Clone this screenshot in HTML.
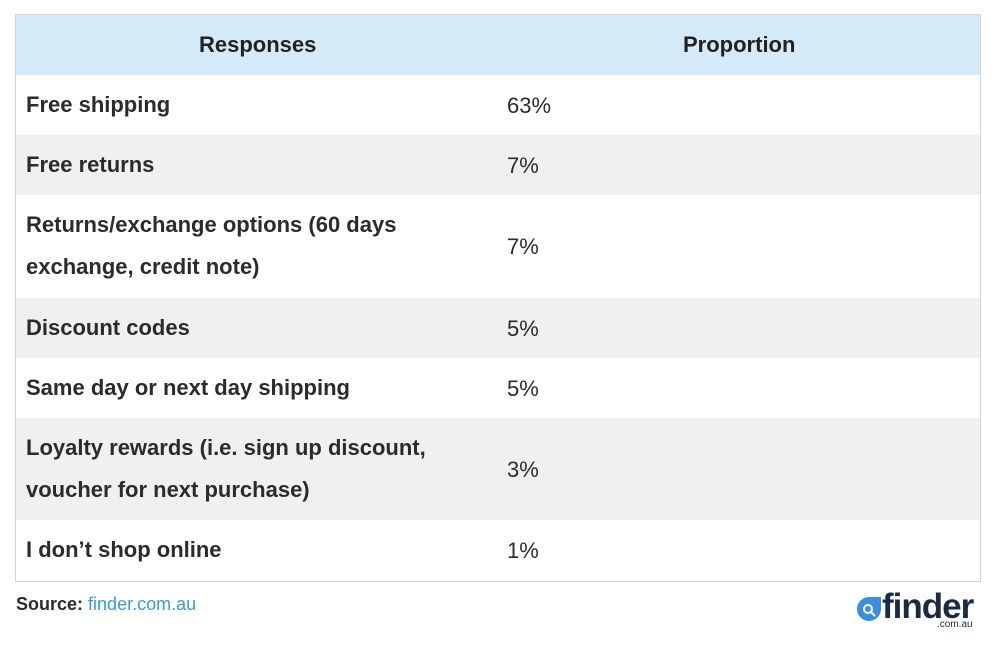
<!DOCTYPE html>
<html><head><meta charset="utf-8"><style>
body{margin:0;width:1000px;height:654px;background:#fff;font-family:"Liberation Sans",Arial,sans-serif;color:#2b2b2b;position:relative;overflow:hidden}
#tbl{position:absolute;left:15px;top:14px;width:964px;height:566px;border:1px solid #d4d4d4}
.row{position:absolute;left:0;width:964px}
.c1{position:absolute;left:10px;font-weight:bold;font-size:22px;line-height:42px}
.c2{position:absolute;left:491px;font-size:22px}
.hd{background:#d5eaf8;top:0;height:60px}
.hd span{position:absolute;top:0;line-height:60px;font-weight:bold;font-size:22px;color:#222}
.g{background:#f0f0f0}
</style></head><body>
<div id="tbl">
<div class="row hd">
<span style="left:183px">Responses</span>
<span style="left:667px">Proportion</span>
</div>
<div class="row" style="top:60px;height:60px"><div class="c1" style="top:9px">Free shipping</div><div class="c2" style="top:18px">63%</div></div>
<div class="row g" style="top:120px;height:60px"><div class="c1" style="top:9px">Free returns</div><div class="c2" style="top:18px">7%</div></div>
<div class="row" style="top:180px;height:103px"><div class="c1" style="top:9px">Returns/exchange options (60 days<br>exchange, credit note)</div><div class="c2" style="top:39px">7%</div></div>
<div class="row g" style="top:283px;height:60px"><div class="c1" style="top:9px">Discount codes</div><div class="c2" style="top:18px">5%</div></div>
<div class="row" style="top:343px;height:60px"><div class="c1" style="top:9px">Same day or next day shipping</div><div class="c2" style="top:18px">5%</div></div>
<div class="row g" style="top:403px;height:102px"><div class="c1" style="top:9px">Loyalty rewards (i.e. sign up discount,<br>voucher for next purchase)</div><div class="c2" style="top:39px">3%</div></div>
<div class="row" style="top:505px;height:61px"><div class="c1" style="top:9px">I don’t shop online</div><div class="c2" style="top:18px">1%</div></div>
</div>
<div style="position:absolute;left:16px;top:594px;font-size:18px"><b>Source:</b> <span style="color:#3a9ad9">finder.com.au</span></div>
<div style="position:absolute;left:857px;top:590px;width:130px;height:45px">
<svg width="24" height="24" style="position:absolute;left:0;top:7px"><path d="M12 0H24V12A12 12 0 1 1 12 0Z" fill="#3a8fe0"/><circle cx="11" cy="12" r="4" fill="none" stroke="#fff" stroke-width="2"/><line x1="14" y1="15" x2="18" y2="19" stroke="#fff" stroke-width="2"/></svg>
<span style="position:absolute;left:25px;top:-3px;font-size:35px;font-weight:bold;color:#1a2a44;letter-spacing:-1px">finder</span>
<span style="position:absolute;left:80px;top:29px;font-size:10px;color:#1a2a44">.com.au</span>
</div>
</body></html>
